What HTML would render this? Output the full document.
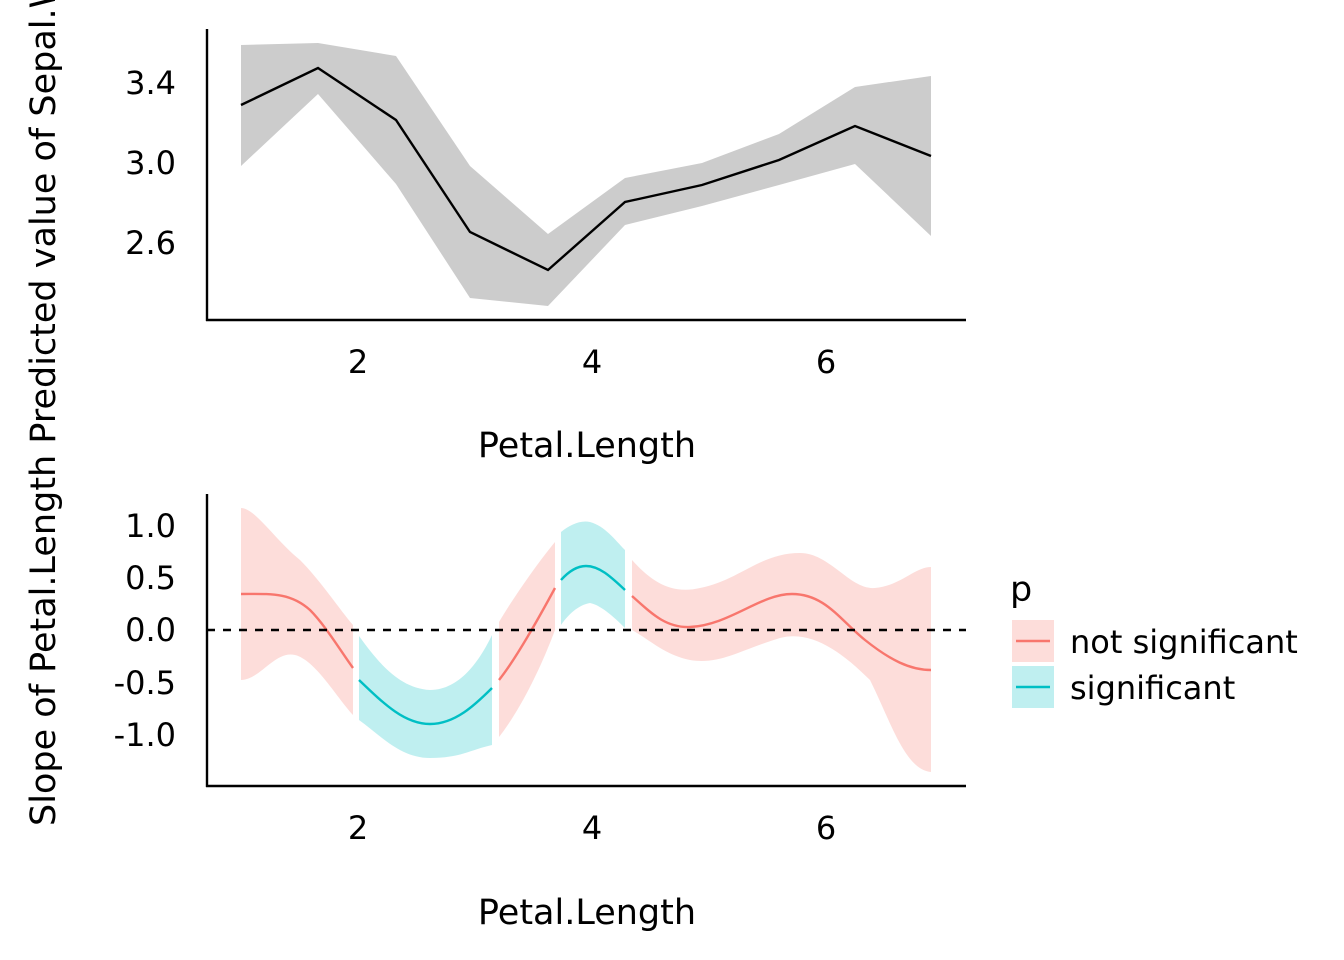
<!DOCTYPE html>
<html><head><style>body{margin:0;background:#fff}svg{display:block}</style></head><body>
<svg width="1344" height="960" xmlns="http://www.w3.org/2000/svg" font-family="DejaVu Sans, Liberation Sans, sans-serif">
<rect width="1344" height="960" fill="#fff"/>
<polygon fill="#cccccc" points="241,45 318,43 396,56 470,166 548,234 625,178 702,163 779,134 855,87 931,76 931,236 855,164 779,185 702,206 625,225 548,306 470,298 396,184 318,94 241,166"/>
<polyline fill="none" stroke="#000" stroke-width="2.4" points="241,105 318,68 396,120 470,232 548,270 625,202 702,185 779,160 855,126 931,156"/>
<line x1="207" y1="29" x2="207" y2="321" stroke="#000" stroke-width="2.4"/>
<line x1="206" y1="320" x2="966" y2="320" stroke="#000" stroke-width="2.4"/>
<g font-size="32" fill="#000" text-anchor="end">
<text x="176" y="94">3.4</text><text x="176" y="174">3.0</text><text x="176" y="254">2.6</text>
</g>
<g font-size="32" fill="#000" text-anchor="middle">
<text x="358" y="373">2</text><text x="592" y="373">4</text><text x="826" y="373">6</text>
<text x="587" y="457" font-size="35">Petal.Length</text>
</g>
<g fill="#F8766D" fill-opacity="0.25">
<path d="M241,508 C255,508 275,540 300,560 C320,580 340,610 353,625 L353,715 C335,695 315,660 295,655 C275,650 260,680 241,680 Z"/>
<path d="M499,622 C515,595 540,560 555,542 L555,630 C540,670 520,710 499,737 Z"/>
<path d="M632,560 C650,580 670,595 700,588 C740,580 760,553 800,553 C830,553 850,590 875,588 C900,586 915,567 931,567 L931,772 C905,770 890,720 870,680 C840,650 810,630 780,638 C740,650 720,665 690,660 C665,655 650,640 632,630 Z"/>
</g>
<g fill="#00BFC4" fill-opacity="0.25">
<path d="M359,636 C380,665 400,688 430,690 C460,690 480,660 492,635 L492,745 C470,750 460,758 430,758 C400,758 380,735 359,720 Z"/>
<path d="M561,532 C570,525 580,520 590,522 C605,526 615,540 625,550 L625,628 C612,615 600,605 590,603 C578,605 568,615 561,625 Z"/>
</g>
<g fill="none" stroke-width="2.4">
<path stroke="#F8766D" d="M241,594 C270,594 290,592 310,610 C325,625 340,650 353,668"/>
<path stroke="#00BFC4" d="M359,680 C385,705 405,724 430,724 C455,724 475,705 492,688"/>
<path stroke="#F8766D" d="M499,680 C515,660 535,625 555,588"/>
<path stroke="#00BFC4" d="M561,580 C570,570 578,566 586,566 C600,566 612,578 625,590"/>
<path stroke="#F8766D" d="M632,596 C650,612 665,628 690,627 C730,625 760,594 792,594 C825,594 840,620 865,640 C890,660 910,670 931,670"/>
</g>
<line x1="207" y1="630" x2="966" y2="630" stroke="#000" stroke-width="2.4" stroke-dasharray="8,8"/>
<line x1="207" y1="494" x2="207" y2="787" stroke="#000" stroke-width="2.4"/>
<line x1="206" y1="786" x2="966" y2="786" stroke="#000" stroke-width="2.4"/>
<g font-size="32" fill="#000" text-anchor="end">
<text x="176" y="537">1.0</text><text x="176" y="589">0.5</text><text x="176" y="641">0.0</text><text x="176" y="694">-0.5</text><text x="176" y="746">-1.0</text>
</g>
<g font-size="32" fill="#000" text-anchor="middle">
<text x="358" y="839">2</text><text x="592" y="839">4</text><text x="826" y="839">6</text>
<text x="587" y="924" font-size="35">Petal.Length</text>
</g>
<text transform="translate(55,826) rotate(-90)" font-size="35" fill="#000">Slope of Petal.Length Predicted value of Sepal.Width</text>
<text x="1010" y="601" font-size="35" fill="#000">p</text>
<rect x="1012" y="620" width="42" height="42" fill="#F8766D" fill-opacity="0.25"/>
<line x1="1016" y1="641" x2="1050" y2="641" stroke="#F8766D" stroke-width="2.4"/>
<rect x="1012" y="666" width="42" height="42" fill="#00BFC4" fill-opacity="0.25"/>
<line x1="1016" y1="687" x2="1050" y2="687" stroke="#00BFC4" stroke-width="2.4"/>
<text x="1070" y="653" font-size="32" fill="#000">not significant</text>
<text x="1070" y="699" font-size="32" fill="#000">significant</text>
</svg>
</body></html>
